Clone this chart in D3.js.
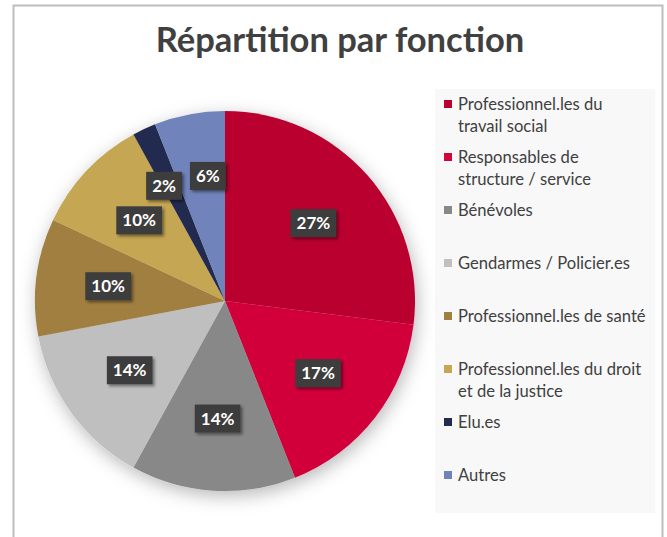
<!DOCTYPE html>
<html><head><meta charset="utf-8">
<script src="https://cdn.jsdelivr.net/npm/d3@7"></script>
<style>
html,body{margin:0;padding:0;background:#fff;}
svg{display:block;}
</style></head>
<body>
<script>
const categories = ["Professionnel.les du travail social","Responsables de structure / service","Bénévoles","Gendarmes / Policier.es","Professionnel.les de santé","Professionnel.les du droit et de la justice","Elu.es","Autres"];
const legendLines = [["Professionnel.les du","travail social"],["Responsables de","structure / service"],["Bénévoles"],["Gendarmes / Policier.es"],["Professionnel.les de santé"],["Professionnel.les du droit","et de la justice"],["Elu.es"],["Autres"]];
const values = [27,17,14,14,10,10,2,6];
const colors = ["#b9002f","#d1063a","#888888","#bfbfbf","#a07f3f","#c4a653","#232c4f","#7083ba"];
const title = "Répartition par fonction";

const W=667,H=537;
const svg=d3.select("body").append("svg").attr("width",W).attr("height",H);
const defs=svg.append("defs");
const f=defs.append("filter").attr("id","sh").attr("x","-30%").attr("y","-30%").attr("width","160%").attr("height","160%");
f.append("feDropShadow").attr("dx",2).attr("dy",5).attr("stdDeviation",9).attr("flood-color","#000").attr("flood-opacity",0.28);
const f2=defs.append("filter").attr("id","lsh").attr("x","-30%").attr("y","-30%").attr("width","160%").attr("height","160%");
f2.append("feDropShadow").attr("dx",2).attr("dy",2).attr("stdDeviation",1.5).attr("flood-color","#000").attr("flood-opacity",0.45);

svg.append("rect").attr("x",13.5).attr("y",5.5).attr("width",649).attr("height",560)
  .attr("fill","#fff").attr("stroke","#bdbdbd").attr("stroke-width",2);

svg.append("text").attr("x",340).attr("y",52).attr("text-anchor","middle")
  .attr("font-family","Lato").attr("font-weight","bold").attr("font-size",34.5)
  .attr("fill","#404040").text(title);

// legend background
svg.append("rect").attr("x",435).attr("y",89).attr("width",220).attr("height",424).attr("fill","#f8f8f8");

const cx=225,cy=301,r=190;
const pie=d3.pie().value(d=>d).sort(null);
const arcs=pie(values);
const arc=d3.arc().innerRadius(0).outerRadius(r);
const g=svg.append("g").attr("transform",`translate(${cx},${cy})`);
g.append("g").attr("filter","url(#sh)").selectAll("path").data(arcs).join("path")
  .attr("d",arc).attr("fill",(d,i)=>colors[i]);

// labels: centroid, pushed outward for thin slices
const labs=arcs.map((d,i)=>{
  const rr=r*(values[i]<8?0.67:0.62);
  const [x,y]=d3.arc().innerRadius(rr).outerRadius(rr).centroid(d);
  return {x,y,t:values[i]+"%"};
});
const lg=g.append("g");
labs.forEach(l=>{
  const t=lg.append("text").attr("font-family","Lato").attr("font-weight","bold").attr("font-size",17).text(l.t);
  l.w=t.node().getComputedTextLength()+12; l.h=28; t.remove();
});
for(let k=0;k<50;k++){
  for(let a=0;a<labs.length;a++)for(let b=a+1;b<labs.length;b++){
    const A=labs[a],B=labs[b];
    const ox=(A.w+B.w)/2+8-Math.abs(A.x-B.x), oy=(A.h+B.h)/2-Math.abs(A.y-B.y);
    if(ox>0&&oy>0){const s=A.x<B.x?-1:1;A.x+=s*ox/2;B.x-=s*ox/2;}
  }
}
labs.forEach(l=>{
  const gg=lg.append("g").attr("transform",`translate(${l.x},${l.y})`);
  gg.append("rect").attr("x",-l.w/2).attr("y",-l.h/2).attr("width",l.w).attr("height",l.h)
    .attr("fill","#3c3c3c").attr("filter","url(#lsh)");
  gg.append("text").attr("text-anchor","middle").attr("dy","0.36em")
    .attr("font-family","Lato").attr("font-weight","bold").attr("font-size",17)
    .attr("fill","#fff").text(l.t);
});

// legend
const ly=d3.scalePoint().domain(categories).range([104,475]);
const leg=svg.append("g").selectAll("g").data(categories).join("g")
  .attr("transform",d=>`translate(444,${ly(d)})`);
leg.append("rect").attr("x",0).attr("y",-4).attr("width",8).attr("height",8).attr("fill",(d,i)=>colors[i]);
leg.append("text").attr("x",14).attr("font-family","Lato").attr("font-size",16.6).attr("fill","#404040")
  .each(function(d,i){
    const t=d3.select(this);
    legendLines[i].forEach((s,j)=>t.append("tspan").attr("x",14).attr("y",j*22).attr("dy","0.35em").text(s));
  });
</script>
</body></html>
